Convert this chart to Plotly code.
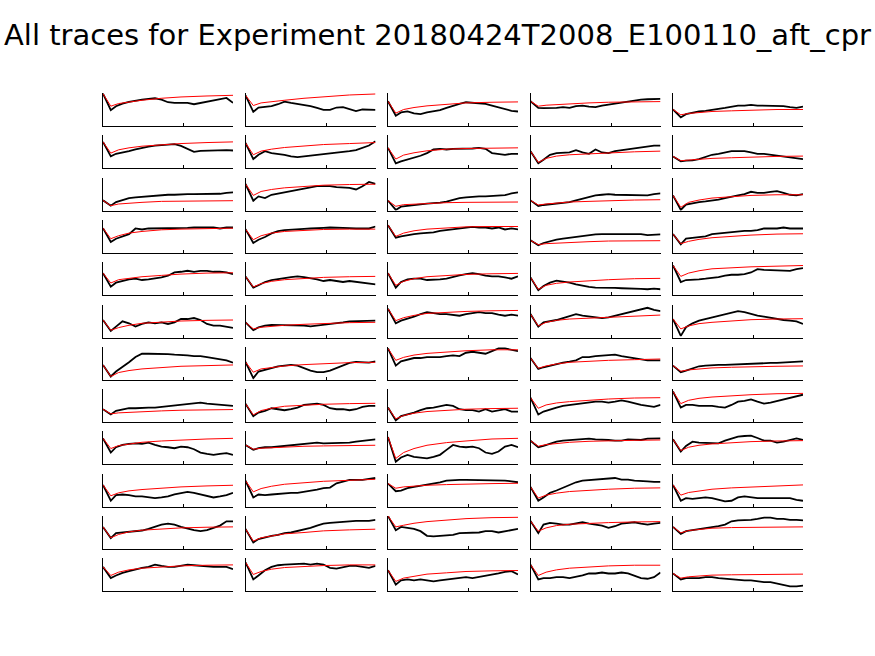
import plotly.graph_objects as go

title_text = "All traces for Experiment 20180424T2008_E100110_aft_cpr"

# sample positions (fraction of trace length)
t_black = [0, .06, .1, .15, .2, .25, .3, .35, .4, .45, .5, .55, .6, .65, .7, .75, .8, .85, .9, .95, 1]
t_red = [0, .06, .12, .2, .3, .45, .6, .8, 1]

# values, as fraction of each panel's height
black_row1 = [
    [0.98, 0.48, 0.6, 0.68, 0.73, 0.77, 0.8, 0.82, 0.84, 0.8, 0.72, 0.7, 0.7, 0.7, 0.66, 0.7, 0.74, 0.77, 0.8, 0.85, 0.7],
    [0.93, 0.43, 0.56, 0.58, 0.6, 0.66, 0.74, 0.7, 0.67, 0.64, 0.6, 0.55, 0.49, 0.49, 0.56, 0.57, 0.52, 0.45, 0.5, 0.5, 0.49],
    [0.75, 0.31, 0.41, 0.44, 0.38, 0.36, 0.41, 0.44, 0.48, 0.55, 0.62, 0.67, 0.72, 0.7, 0.67, 0.67, 0.62, 0.57, 0.52, 0.46, 0.44],
    [0.75, 0.55, 0.54, 0.54, 0.55, 0.57, 0.55, 0.6, 0.62, 0.59, 0.57, 0.62, 0.65, 0.69, 0.72, 0.75, 0.79, 0.8, 0.81, 0.82, 0.82],
    [0.5, 0.26, 0.36, 0.41, 0.44, 0.46, 0.48, 0.52, 0.55, 0.59, 0.62, 0.62, 0.64, 0.62, 0.62, 0.6, 0.62, 0.6, 0.57, 0.55, 0.59],
]
red_row1 = [
    [0.98, 0.6, 0.68, 0.73, 0.78, 0.84, 0.88, 0.91, 0.93],
    [0.93, 0.62, 0.7, 0.74, 0.78, 0.84, 0.89, 0.94, 0.97],
    [0.75, 0.39, 0.5, 0.56, 0.61, 0.66, 0.7, 0.72, 0.73],
    [0.75, 0.6, 0.63, 0.65, 0.68, 0.7, 0.72, 0.73, 0.74],
    [0.5, 0.34, 0.38, 0.41, 0.44, 0.46, 0.48, 0.5, 0.5],
]
black_row2 = [
    [0.8, 0.36, 0.44, 0.47, 0.52, 0.57, 0.62, 0.66, 0.69, 0.7, 0.71, 0.73, 0.68, 0.6, 0.5, 0.53, 0.54, 0.55, 0.55, 0.55, 0.54],
    [0.77, 0.28, 0.41, 0.52, 0.46, 0.44, 0.41, 0.36, 0.34, 0.36, 0.38, 0.41, 0.44, 0.44, 0.46, 0.48, 0.52, 0.55, 0.62, 0.69, 0.82],
    [0.62, 0.15, 0.21, 0.26, 0.31, 0.38, 0.46, 0.57, 0.59, 0.57, 0.59, 0.59, 0.6, 0.6, 0.62, 0.59, 0.46, 0.44, 0.41, 0.44, 0.44],
    [0.52, 0.15, 0.26, 0.41, 0.46, 0.46, 0.48, 0.55, 0.48, 0.44, 0.57, 0.48, 0.46, 0.52, 0.55, 0.57, 0.59, 0.62, 0.65, 0.69, 0.69],
    [0.36, 0.21, 0.23, 0.24, 0.28, 0.34, 0.41, 0.44, 0.48, 0.52, 0.52, 0.52, 0.48, 0.44, 0.44, 0.41, 0.38, 0.36, 0.34, 0.31, 0.28],
]
red_row2 = [
    [0.8, 0.46, 0.56, 0.62, 0.67, 0.72, 0.75, 0.78, 0.8],
    [0.77, 0.41, 0.52, 0.58, 0.63, 0.68, 0.72, 0.75, 0.78],
    [0.62, 0.28, 0.4, 0.47, 0.53, 0.58, 0.6, 0.62, 0.62],
    [0.52, 0.18, 0.3, 0.37, 0.41, 0.44, 0.47, 0.5, 0.52],
    [0.36, 0.23, 0.25, 0.28, 0.3, 0.32, 0.34, 0.36, 0.37],
]
black_row3 = [
    [0.31, 0.15, 0.26, 0.33, 0.38, 0.4, 0.42, 0.43, 0.46, 0.48, 0.48, 0.48, 0.5, 0.5, 0.5, 0.5, 0.51, 0.5, 0.51, 0.54, 0.55],
    [0.81, 0.3, 0.43, 0.38, 0.48, 0.52, 0.56, 0.6, 0.64, 0.67, 0.71, 0.74, 0.74, 0.74, 0.71, 0.69, 0.69, 0.64, 0.74, 0.87, 0.81],
    [0.3, 0.02, 0.12, 0.15, 0.17, 0.19, 0.21, 0.22, 0.24, 0.27, 0.33, 0.38, 0.4, 0.42, 0.43, 0.43, 0.45, 0.46, 0.47, 0.52, 0.55],
    [0.31, 0.14, 0.17, 0.19, 0.2, 0.23, 0.26, 0.31, 0.36, 0.41, 0.46, 0.48, 0.5, 0.48, 0.48, 0.46, 0.48, 0.48, 0.46, 0.5, 0.52],
    [0.46, 0.02, 0.18, 0.23, 0.26, 0.28, 0.3, 0.33, 0.38, 0.43, 0.46, 0.5, 0.57, 0.54, 0.54, 0.57, 0.59, 0.54, 0.48, 0.46, 0.5],
]
red_row3 = [
    [0.31, 0.15, 0.2, 0.23, 0.25, 0.28, 0.29, 0.3, 0.3],
    [0.81, 0.46, 0.58, 0.64, 0.69, 0.74, 0.77, 0.79, 0.8],
    [0.3, 0.13, 0.18, 0.2, 0.22, 0.24, 0.25, 0.26, 0.26],
    [0.31, 0.17, 0.2, 0.23, 0.26, 0.28, 0.3, 0.32, 0.33],
    [0.46, 0.1, 0.25, 0.32, 0.38, 0.43, 0.46, 0.48, 0.48],
]
black_row4 = [
    [0.75, 0.33, 0.43, 0.5, 0.57, 0.74, 0.71, 0.74, 0.74, 0.75, 0.75, 0.75, 0.76, 0.76, 0.77, 0.77, 0.76, 0.77, 0.74, 0.77, 0.77],
    [0.72, 0.3, 0.4, 0.48, 0.59, 0.66, 0.69, 0.71, 0.72, 0.73, 0.74, 0.74, 0.76, 0.77, 0.77, 0.75, 0.75, 0.74, 0.74, 0.74, 0.8],
    [0.84, 0.46, 0.5, 0.54, 0.57, 0.59, 0.61, 0.62, 0.67, 0.69, 0.71, 0.74, 0.77, 0.79, 0.77, 0.77, 0.74, 0.77, 0.71, 0.74, 0.71],
    [0.38, 0.23, 0.3, 0.36, 0.4, 0.43, 0.46, 0.48, 0.52, 0.54, 0.56, 0.57, 0.57, 0.57, 0.57, 0.57, 0.59, 0.57, 0.54, 0.54, 0.56],
    [0.57, 0.26, 0.43, 0.46, 0.48, 0.5, 0.57, 0.59, 0.61, 0.64, 0.64, 0.67, 0.67, 0.69, 0.74, 0.74, 0.74, 0.77, 0.74, 0.74, 0.74],
]
red_row4 = [
    [0.75, 0.43, 0.52, 0.6, 0.65, 0.7, 0.72, 0.74, 0.75],
    [0.72, 0.4, 0.52, 0.6, 0.65, 0.69, 0.71, 0.72, 0.72],
    [0.84, 0.5, 0.6, 0.67, 0.72, 0.76, 0.79, 0.8, 0.8],
    [0.38, 0.25, 0.28, 0.3, 0.32, 0.34, 0.36, 0.37, 0.37],
    [0.57, 0.28, 0.35, 0.41, 0.46, 0.51, 0.54, 0.57, 0.58],
]
black_row5 = [
    [0.67, 0.26, 0.38, 0.43, 0.48, 0.5, 0.46, 0.48, 0.5, 0.54, 0.59, 0.69, 0.71, 0.74, 0.71, 0.74, 0.74, 0.71, 0.71, 0.69, 0.64],
    [0.57, 0.23, 0.3, 0.4, 0.46, 0.48, 0.52, 0.55, 0.57, 0.55, 0.52, 0.48, 0.43, 0.46, 0.43, 0.4, 0.43, 0.4, 0.38, 0.36, 0.33],
    [0.67, 0.23, 0.4, 0.48, 0.5, 0.5, 0.46, 0.46, 0.48, 0.5, 0.56, 0.6, 0.64, 0.67, 0.64, 0.59, 0.57, 0.57, 0.54, 0.5, 0.57],
    [0.54, 0.15, 0.28, 0.38, 0.44, 0.42, 0.38, 0.33, 0.28, 0.25, 0.23, 0.23, 0.24, 0.22, 0.21, 0.21, 0.2, 0.19, 0.18, 0.2, 0.18],
    [0.9, 0.4, 0.46, 0.46, 0.48, 0.5, 0.52, 0.55, 0.59, 0.62, 0.62, 0.64, 0.69, 0.79, 0.77, 0.76, 0.74, 0.74, 0.74, 0.79, 0.82],
]
red_row5 = [
    [0.67, 0.37, 0.47, 0.52, 0.56, 0.6, 0.64, 0.67, 0.68],
    [0.57, 0.25, 0.35, 0.42, 0.47, 0.51, 0.54, 0.56, 0.57],
    [0.67, 0.3, 0.42, 0.5, 0.56, 0.6, 0.63, 0.65, 0.66],
    [0.54, 0.18, 0.3, 0.36, 0.4, 0.44, 0.47, 0.5, 0.51],
    [0.9, 0.57, 0.67, 0.74, 0.8, 0.84, 0.86, 0.88, 0.9],
]
black_row6 = [
    [0.53, 0.2, 0.33, 0.49, 0.43, 0.33, 0.41, 0.46, 0.43, 0.46, 0.41, 0.46, 0.56, 0.56, 0.59, 0.53, 0.41, 0.36, 0.36, 0.33, 0.29],
    [0.46, 0.22, 0.31, 0.36, 0.38, 0.38, 0.38, 0.36, 0.36, 0.36, 0.34, 0.36, 0.39, 0.41, 0.43, 0.46, 0.49, 0.49, 0.51, 0.51, 0.51],
    [0.87, 0.43, 0.51, 0.56, 0.63, 0.71, 0.77, 0.74, 0.71, 0.71, 0.69, 0.66, 0.71, 0.74, 0.77, 0.74, 0.74, 0.69, 0.66, 0.69, 0.66],
    [0.71, 0.33, 0.46, 0.49, 0.53, 0.59, 0.66, 0.71, 0.66, 0.63, 0.61, 0.59, 0.61, 0.66, 0.71, 0.77, 0.82, 0.87, 0.9, 0.84, 0.8],
    [0.56, 0.05, 0.31, 0.43, 0.51, 0.56, 0.61, 0.66, 0.71, 0.77, 0.8, 0.77, 0.71, 0.66, 0.63, 0.59, 0.56, 0.53, 0.51, 0.49, 0.41],
]
red_row6 = [
    [0.53, 0.22, 0.3, 0.37, 0.43, 0.47, 0.5, 0.52, 0.53],
    [0.46, 0.26, 0.31, 0.34, 0.37, 0.4, 0.43, 0.45, 0.46],
    [0.87, 0.51, 0.6, 0.67, 0.73, 0.77, 0.79, 0.81, 0.82],
    [0.71, 0.35, 0.46, 0.52, 0.56, 0.59, 0.62, 0.65, 0.68],
    [0.56, 0.26, 0.35, 0.42, 0.46, 0.5, 0.54, 0.56, 0.57],
]
black_row7 = [
    [0.45, 0.1, 0.25, 0.38, 0.53, 0.69, 0.79, 0.79, 0.79, 0.77, 0.78, 0.76, 0.76, 0.74, 0.72, 0.72, 0.69, 0.66, 0.62, 0.59, 0.52],
    [0.54, 0.05, 0.25, 0.31, 0.35, 0.41, 0.43, 0.45, 0.43, 0.35, 0.28, 0.23, 0.23, 0.28, 0.35, 0.43, 0.51, 0.54, 0.54, 0.52, 0.56],
    [0.95, 0.43, 0.56, 0.62, 0.66, 0.66, 0.69, 0.69, 0.69, 0.72, 0.74, 0.72, 0.82, 0.85, 0.82, 0.79, 0.87, 0.95, 0.95, 0.9, 0.87],
    [0.66, 0.33, 0.38, 0.43, 0.48, 0.52, 0.55, 0.59, 0.69, 0.69, 0.72, 0.73, 0.76, 0.76, 0.72, 0.69, 0.66, 0.64, 0.59, 0.59, 0.59],
    [0.43, 0.23, 0.28, 0.35, 0.41, 0.43, 0.45, 0.45, 0.45, 0.46, 0.47, 0.48, 0.49, 0.51, 0.51, 0.51, 0.51, 0.52, 0.54, 0.54, 0.56],
]
red_row7 = [
    [0.45, 0.1, 0.22, 0.28, 0.33, 0.38, 0.41, 0.43, 0.45],
    [0.54, 0.23, 0.33, 0.38, 0.42, 0.46, 0.49, 0.52, 0.53],
    [0.95, 0.59, 0.68, 0.75, 0.8, 0.85, 0.88, 0.91, 0.91],
    [0.66, 0.35, 0.42, 0.48, 0.53, 0.57, 0.59, 0.61, 0.63],
    [0.43, 0.26, 0.3, 0.33, 0.36, 0.38, 0.4, 0.41, 0.42],
]
black_row8 = [
    [0.39, 0.23, 0.34, 0.39, 0.42, 0.42, 0.44, 0.44, 0.44, 0.46, 0.49, 0.52, 0.54, 0.56, 0.56, 0.59, 0.56, 0.54, 0.52, 0.52, 0.49],
    [0.56, 0.18, 0.29, 0.34, 0.42, 0.39, 0.36, 0.39, 0.44, 0.52, 0.54, 0.56, 0.52, 0.42, 0.39, 0.39, 0.36, 0.39, 0.46, 0.49, 0.49],
    [0.44, 0.05, 0.18, 0.23, 0.29, 0.36, 0.42, 0.44, 0.49, 0.52, 0.49, 0.39, 0.36, 0.36, 0.32, 0.39, 0.32, 0.36, 0.39, 0.32, 0.32],
    [0.74, 0.23, 0.32, 0.39, 0.44, 0.49, 0.52, 0.54, 0.56, 0.59, 0.62, 0.62, 0.59, 0.62, 0.66, 0.62, 0.56, 0.52, 0.49, 0.46, 0.52],
    [0.93, 0.44, 0.52, 0.52, 0.49, 0.49, 0.49, 0.46, 0.44, 0.52, 0.62, 0.64, 0.69, 0.62, 0.56, 0.59, 0.64, 0.69, 0.72, 0.79, 0.83],
]
red_row8 = [
    [0.39, 0.25, 0.28, 0.3, 0.32, 0.34, 0.36, 0.37, 0.38],
    [0.56, 0.22, 0.35, 0.42, 0.48, 0.52, 0.54, 0.56, 0.57],
    [0.44, 0.1, 0.2, 0.27, 0.32, 0.36, 0.39, 0.41, 0.42],
    [0.74, 0.42, 0.52, 0.58, 0.62, 0.67, 0.7, 0.73, 0.74],
    [0.93, 0.56, 0.66, 0.72, 0.76, 0.8, 0.83, 0.86, 0.87],
]
black_row9 = [
    [0.79, 0.36, 0.52, 0.59, 0.62, 0.64, 0.62, 0.66, 0.59, 0.54, 0.52, 0.49, 0.54, 0.52, 0.46, 0.36, 0.32, 0.29, 0.32, 0.34, 0.29],
    [0.59, 0.44, 0.49, 0.52, 0.52, 0.54, 0.56, 0.58, 0.62, 0.64, 0.66, 0.66, 0.64, 0.64, 0.66, 0.66, 0.66, 0.69, 0.72, 0.74, 0.76],
    [0.83, 0.08, 0.21, 0.29, 0.23, 0.21, 0.18, 0.23, 0.29, 0.44, 0.59, 0.54, 0.52, 0.54, 0.49, 0.36, 0.32, 0.39, 0.54, 0.59, 0.52],
    [0.72, 0.52, 0.56, 0.62, 0.69, 0.72, 0.74, 0.76, 0.77, 0.78, 0.76, 0.76, 0.74, 0.72, 0.72, 0.76, 0.74, 0.74, 0.78, 0.79, 0.79],
    [0.76, 0.39, 0.56, 0.69, 0.66, 0.66, 0.66, 0.64, 0.72, 0.79, 0.84, 0.86, 0.87, 0.8, 0.72, 0.72, 0.66, 0.69, 0.74, 0.79, 0.74],
]
red_row9 = [
    [0.79, 0.48, 0.57, 0.62, 0.67, 0.71, 0.74, 0.77, 0.79],
    [0.59, 0.46, 0.49, 0.51, 0.53, 0.55, 0.56, 0.57, 0.58],
    [0.83, 0.18, 0.36, 0.48, 0.58, 0.66, 0.71, 0.77, 0.79],
    [0.72, 0.55, 0.6, 0.64, 0.67, 0.7, 0.72, 0.73, 0.74],
    [0.76, 0.42, 0.52, 0.58, 0.62, 0.66, 0.69, 0.71, 0.72],
]
black_row10 = [
    [0.66, 0.18, 0.35, 0.37, 0.35, 0.31, 0.31, 0.28, 0.26, 0.28, 0.31, 0.37, 0.42, 0.45, 0.42, 0.37, 0.31, 0.28, 0.31, 0.35, 0.42],
    [0.79, 0.28, 0.37, 0.35, 0.37, 0.39, 0.42, 0.42, 0.42, 0.45, 0.47, 0.52, 0.56, 0.58, 0.71, 0.77, 0.81, 0.81, 0.81, 0.84, 0.87],
    [0.7, 0.47, 0.49, 0.56, 0.6, 0.63, 0.68, 0.7, 0.74, 0.79, 0.81, 0.81, 0.81, 0.81, 0.81, 0.79, 0.79, 0.79, 0.79, 0.77, 0.74],
    [0.6, 0.18, 0.28, 0.42, 0.49, 0.58, 0.66, 0.74, 0.79, 0.81, 0.82, 0.85, 0.87, 0.87, 0.82, 0.82, 0.79, 0.79, 0.77, 0.75, 0.75],
    [0.66, 0.18, 0.26, 0.24, 0.26, 0.28, 0.26, 0.21, 0.16, 0.18, 0.28, 0.31, 0.28, 0.26, 0.26, 0.26, 0.26, 0.24, 0.26, 0.21, 0.18],
]
red_row10 = [
    [0.66, 0.33, 0.42, 0.48, 0.52, 0.56, 0.6, 0.63, 0.65],
    [0.79, 0.45, 0.55, 0.62, 0.68, 0.73, 0.77, 0.8, 0.83],
    [0.7, 0.56, 0.6, 0.63, 0.65, 0.67, 0.69, 0.7, 0.71],
    [0.6, 0.26, 0.35, 0.41, 0.46, 0.5, 0.53, 0.56, 0.57],
    [0.66, 0.35, 0.43, 0.48, 0.53, 0.57, 0.6, 0.63, 0.66],
]
black_row11 = [
    [0.67, 0.33, 0.48, 0.5, 0.5, 0.54, 0.56, 0.61, 0.67, 0.74, 0.77, 0.74, 0.67, 0.61, 0.57, 0.54, 0.57, 0.64, 0.71, 0.84, 0.84],
    [0.61, 0.2, 0.3, 0.36, 0.4, 0.43, 0.48, 0.5, 0.54, 0.59, 0.64, 0.71, 0.77, 0.79, 0.81, 0.84, 0.84, 0.85, 0.85, 0.85, 0.88],
    [1.0, 0.57, 0.67, 0.64, 0.61, 0.54, 0.4, 0.38, 0.4, 0.43, 0.43, 0.48, 0.48, 0.5, 0.5, 0.54, 0.54, 0.5, 0.54, 0.59, 0.61],
    [0.85, 0.48, 0.74, 0.79, 0.77, 0.74, 0.74, 0.77, 0.81, 0.77, 0.74, 0.71, 0.64, 0.69, 0.77, 0.79, 0.81, 0.77, 0.74, 0.77, 0.79],
    [0.67, 0.46, 0.54, 0.57, 0.59, 0.64, 0.67, 0.69, 0.74, 0.84, 0.87, 0.87, 0.88, 0.91, 0.95, 0.95, 0.91, 0.91, 0.88, 0.88, 0.87],
]
red_row11 = [
    [0.67, 0.34, 0.44, 0.52, 0.57, 0.61, 0.64, 0.66, 0.67],
    [0.61, 0.24, 0.34, 0.4, 0.46, 0.5, 0.55, 0.58, 0.6],
    [1.0, 0.67, 0.72, 0.78, 0.83, 0.88, 0.92, 0.95, 0.96],
    [0.85, 0.54, 0.64, 0.71, 0.75, 0.78, 0.8, 0.82, 0.83],
    [0.67, 0.49, 0.56, 0.6, 0.63, 0.65, 0.66, 0.67, 0.67],
]
black_row12 = [
    [0.74, 0.4, 0.48, 0.56, 0.61, 0.67, 0.71, 0.74, 0.81, 0.77, 0.74, 0.74, 0.77, 0.81, 0.79, 0.77, 0.74, 0.74, 0.74, 0.74, 0.67],
    [0.88, 0.36, 0.48, 0.64, 0.74, 0.79, 0.81, 0.82, 0.83, 0.84, 0.81, 0.84, 0.81, 0.71, 0.69, 0.74, 0.77, 0.77, 0.74, 0.71, 0.77],
    [0.64, 0.2, 0.33, 0.36, 0.33, 0.36, 0.33, 0.3, 0.33, 0.36, 0.38, 0.4, 0.43, 0.4, 0.43, 0.46, 0.51, 0.54, 0.59, 0.61, 0.51],
    [0.81, 0.36, 0.4, 0.4, 0.43, 0.43, 0.4, 0.43, 0.48, 0.54, 0.54, 0.57, 0.54, 0.54, 0.57, 0.54, 0.46, 0.4, 0.38, 0.43, 0.57],
    [0.54, 0.36, 0.4, 0.4, 0.4, 0.43, 0.43, 0.4, 0.38, 0.36, 0.36, 0.33, 0.33, 0.3, 0.28, 0.28, 0.23, 0.2, 0.15, 0.15, 0.17],
]
red_row12 = [
    [0.74, 0.48, 0.58, 0.65, 0.7, 0.74, 0.77, 0.79, 0.8],
    [0.88, 0.51, 0.6, 0.67, 0.72, 0.76, 0.78, 0.8, 0.8],
    [0.64, 0.3, 0.4, 0.46, 0.52, 0.56, 0.6, 0.62, 0.63],
    [0.81, 0.48, 0.58, 0.65, 0.7, 0.74, 0.77, 0.79, 0.79],
    [0.54, 0.4, 0.44, 0.47, 0.49, 0.5, 0.51, 0.52, 0.52],
]

black_rows = [black_row1, black_row2, black_row3, black_row4, black_row5, black_row6,
              black_row7, black_row8, black_row9, black_row10, black_row11, black_row12]
red_rows = [red_row1, red_row2, red_row3, red_row4, red_row5, red_row6,
            red_row7, red_row8, red_row9, red_row10, red_row11, red_row12]

W, H = 875, 656
col_left0, col_step, col_w = 103, 142.5, 130
row_top0, row_step, row_h = 93, 42.3, 33

fig = go.Figure()
layout = {}
n = 0
for r in range(12):
    for c in range(5):
        n += 1
        xa = "x" if n == 1 else f"x{n}"
        ya = "y" if n == 1 else f"y{n}"
        fig.add_trace(go.Scatter(x=t_black, y=black_rows[r][c], mode="lines",
                                 line=dict(color="black", width=1.8),
                                 xaxis=xa, yaxis=ya, showlegend=False, hoverinfo="skip"))
        fig.add_trace(go.Scatter(x=t_red, y=red_rows[r][c], mode="lines",
                                 line=dict(color="#ff0000", width=1),
                                 xaxis=xa, yaxis=ya, showlegend=False, hoverinfo="skip"))
        x0 = (col_left0 + col_step * c) / W
        x1 = (col_left0 + col_step * c + col_w) / W
        top = row_top0 + row_step * r
        y1 = 1 - top / H
        y0 = 1 - (top + row_h) / H
        kx = "xaxis" if n == 1 else f"xaxis{n}"
        ky = "yaxis" if n == 1 else f"yaxis{n}"
        layout[kx] = dict(domain=[x0, x1], range=[0, 1], anchor=ya, showgrid=False,
                          zeroline=False, showline=True, linecolor="black", linewidth=1,
                          ticks="inside", ticklen=3, tickcolor="black", tickvals=[0.62],
                          showticklabels=False, fixedrange=True)
        layout[ky] = dict(domain=[y0, y1], range=[0, 1], anchor=xa, showgrid=False,
                          zeroline=False, showline=True, linecolor="black", linewidth=1,
                          ticks="", showticklabels=False, fixedrange=True)

fig.update_layout(**layout)
fig.update_layout(
    width=W, height=H, autosize=False,
    margin=dict(l=0, r=0, t=0, b=0),
    paper_bgcolor="white", plot_bgcolor="white",
    title=dict(text=title_text, x=0.5, xanchor="center", y=1 - 35 / H, yanchor="middle",
               font=dict(family="DejaVu Sans", size=29, color="black")),
)
fig.write_html("out.html")
